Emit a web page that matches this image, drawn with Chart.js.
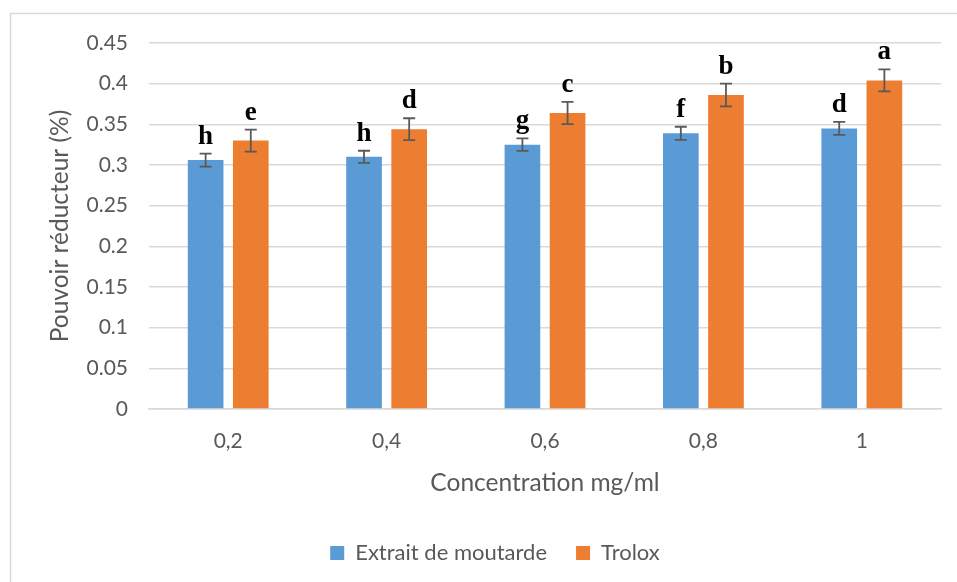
<!DOCTYPE html>
<html>
<head>
<meta charset="utf-8">
<script src="https://cdn.jsdelivr.net/npm/chart.js@4.4.0/dist/chart.umd.min.js"></script>
<style>
    html, body { margin: 0; padding: 0; background: #fff; }
    #wrap { position: relative; width: 957px; height: 582px; }
</style>
</head>
<body>
<div id="wrap"><canvas id="chart" width="957" height="582"></canvas></div>
<script>
// Data
const categories = ["0,2", "0,4", "0,6", "0,8", "1"];
const extraitValues = [0.306, 0.310, 0.325, 0.339, 0.345];
const troloxValues = [0.330, 0.344, 0.364, 0.386, 0.404];
const extraitErrors = [0.008, 0.0075, 0.0077, 0.008, 0.008];
const troloxErrors = [0.0135, 0.0135, 0.0137, 0.014, 0.0135];
const extraitLetters = ["h", "h", "g", "f", "d"];
const troloxLetters = ["e", "d", "c", "b", "a"];

const FONT = "Lato, 'Open Sans', sans-serif";
const GREY = "#595959";

// Frame round the chart (left and top edges visible)
const framePlugin = {
    id: "frame",
    beforeDraw(chart) {
        const ctx = chart.ctx;
        ctx.save();
        ctx.strokeStyle = "#d9d9d9";
        ctx.lineWidth = 1.5;
        ctx.strokeRect(10.5, 13.5, 1000, 700);
        ctx.restore();
    }
};

// Error bars and significance letters
const errorBarPlugin = {
    id: "errorBars",
    afterDatasetsDraw(chart) {
        const ctx = chart.ctx;
        const y = chart.scales.y;
        chart.data.datasets.forEach((ds, i) => {
            const meta = chart.getDatasetMeta(i);
            meta.data.forEach((bar, j) => {
                const v = ds.data[j];
                const e = ds.errors[j];
                const top = y.getPixelForValue(v + e);
                const bottom = y.getPixelForValue(v - e);
                ctx.save();
                ctx.strokeStyle = GREY;
                ctx.lineWidth = 1.8;
                ctx.beginPath();
                ctx.moveTo(bar.x, top);
                ctx.lineTo(bar.x, bottom);
                ctx.moveTo(bar.x - 6, top);
                ctx.lineTo(bar.x + 6, top);
                ctx.moveTo(bar.x - 6, bottom);
                ctx.lineTo(bar.x + 6, bottom);
                ctx.stroke();

                ctx.fillStyle = "#000";
                ctx.font = "bold 27px 'Liberation Serif', 'Times New Roman', serif";
                ctx.textAlign = "center";
                ctx.textBaseline = "alphabetic";
                ctx.fillText(ds.letters[j], bar.x, top - 10);
                ctx.restore();
            });
        });
    }
};

new Chart(document.getElementById("chart"), {
    type: "bar",
    data: {
        labels: categories,
        datasets: [
            {
                label: "Extrait de moutarde",
                data: extraitValues,
                errors: extraitErrors,
                letters: extraitLetters,
                backgroundColor: "#5B9BD5",
                categoryPercentage: 0.57,
                barPercentage: 0.79
            },
            {
                label: "Trolox",
                data: troloxValues,
                errors: troloxErrors,
                letters: troloxLetters,
                backgroundColor: "#ED7D31",
                categoryPercentage: 0.57,
                barPercentage: 0.79
            }
        ]
    },
    options: {
        responsive: false,
        animation: false,
        layout: { padding: { left: 49, right: 16, top: 43, bottom: 8 } },
        plugins: {
            tooltip: { enabled: false },
            legend: {
                position: "bottom",
                labels: {
                    font: { family: FONT, size: 22 },
                    color: GREY,
                    boxWidth: 14,
                    boxHeight: 14,
                    padding: 29
                }
            }
        },
        scales: {
            x: {
                grid: { display: false, drawTicks: false },
                border: { color: "#d9d9d9", width: 1.5 },
                ticks: { font: { family: FONT, size: 21 }, color: GREY, padding: 20 },
                title: {
                    display: true,
                    text: "Concentration mg/ml",
                    font: { family: FONT, size: 24.5 },
                    color: GREY,
                    padding: { top: 0, bottom: 15 }
                },
                afterFit(scale) { scale.height = 104; }
            },
            y: {
                min: 0,
                max: 0.45,
                ticks: {
                    stepSize: 0.05,
                    font: { family: FONT, size: 21 },
                    color: GREY,
                    padding: 21,
                    callback: v => String(Math.round(v * 100) / 100)
                },
                grid: { color: "#d9d9d9", lineWidth: 1.5, drawTicks: false },
                border: { display: false },
                title: {
                    display: true,
                    text: "Pouvoir réducteur (%)",
                    font: { family: FONT, size: 24.5 },
                    color: GREY,
                    padding: { top: -4, bottom: 0 }
                },
                afterFit(scale) { scale.width = 100; }
            }
        }
    },
    plugins: [framePlugin, errorBarPlugin]
});
</script>
</body>
</html>
